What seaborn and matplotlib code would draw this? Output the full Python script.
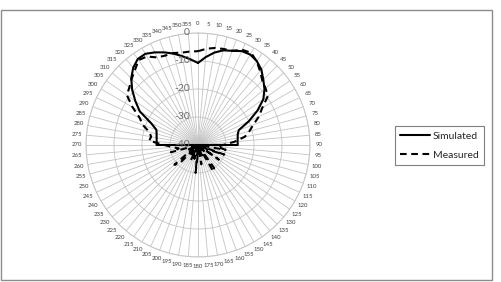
import numpy as np
import pandas as pd
import matplotlib
matplotlib.use("Agg")
import matplotlib.pyplot as plt
from matplotlib.lines import Line2D
from matplotlib.patches import Rectangle
from matplotlib.transforms import offset_copy
import seaborn as sns

# ---- data ----
angles = list(range(0, 360, 5))  # category labels (degrees)
simulated = [
    -10.7, -8.5, -6.5, -5.0, -4.2, -3.0, -2.7, -3.4, -4.8, -7.0,   # 0-45
    -9.0, -11.5, -15.5, -20.0, -24.5, -25.3, -25.6, -25.8, -25.8,  # 50-90
    -40, -40, -40, -40, -40, -40, -40, -40, -40, -40, -40, -40,    # 95-150
    -40, -40, -40, -40, -40, -40, -40, -40, -40, -40, -40, -40,    # 155-210
    -40, -40, -40, -40, -40, -40, -40, -40, -40, -40, -40,         # 215-265
    -25.2, -25.2, -25.0, -24.7, -24.2, -21.5, -16.0, -12.7, -9.3,  # 270-310
    -6.3, -4.0, -2.5, -2.4, -3.5, -4.8, -6.2, -7.8, -9.3,          # 315-355
]
measured = [
    -6.5, -5.5, -4.8, -4.5, -4.2, -2.5, -2.0, -3.5, -5.5, -7.5,    # 0-45
    -8.5, -9.5, -13.5, -16.0, -19.0, -21.0, -23.0, -27.0, -31.0,   # 50-90
    -33, -30, -40, -30, -36, -40, -31, -40, -37, -40, -30, -29,    # 95-150
    -40, -36, -40, -33, -40, -37, -30, -40, -35, -40, -34, -40,    # 155-210
    -36, -40, -31, -29, -38, -40, -36, -40, -30, -33, -31,         # 215-265
    -28.0, -22.5, -23.0, -22.0, -19.0, -17.0, -13.0, -9.0, -8.0,   # 270-310
    -6.5, -5.0, -3.0, -3.5, -5.5, -6.0, -6.0, -6.5, -6.5,          # 315-355
]
radial_ticks = [-40, -30, -20, -10, 0]
series_names = ["Simulated", "Measured"]

# ---- figure ----
sns.set_style("white")
plt.rcParams["font.family"] = ["Lato", "DejaVu Sans"]

fig = plt.figure(figsize=(5.02, 2.82), dpi=100)
ax = fig.add_axes([0.1713, 0.0887, 0.4462, 0.7943], projection="polar")
ax.set_theta_zero_location("N")
ax.set_theta_direction(-1)
ax.set_ylim(-40, 0)

theta = np.deg2rad(angles + [360])
df = pd.DataFrame({
    "theta": np.concatenate([theta, theta]),
    "value": simulated + simulated[:1] + measured + measured[:1],
    "series": [series_names[0]] * len(theta) + [series_names[1]] * len(theta),
})

dash = (0, (3.2, 2.2))
sns.lineplot(data=df[df.series == "Simulated"], x="theta", y="value", ax=ax,
             color="black", lw=1.5, sort=False, estimator=None, legend=False,
             zorder=4)
sns.lineplot(data=df[df.series == "Measured"], x="theta", y="value", ax=ax,
             color="black", lw=1.5, sort=False, estimator=None, legend=False,
             linestyle=dash, zorder=4)

grid_col = "#c4c4c4"
ax.set_xticks(np.deg2rad(angles))
ax.set_xticklabels([str(a) for a in angles], fontsize=4.3, color="#404040")
ax.tick_params(axis="x", pad=-4)
ax.set_yticks(radial_ticks)
ax.set_yticklabels([])
ax.grid(True, color=grid_col, lw=0.6)
ax.spines["polar"].set_color(grid_col)
ax.spines["polar"].set_linewidth(0.7)
ax.set_xlabel("")
ax.set_ylabel("")

# value axis labels along 0 deg spoke
for r in radial_ticks:
    tr = offset_copy(ax.transData, fig=fig, x=-8, y=0, units="dots")
    ax.text(0, r, str(r), transform=tr, ha="right", va="center",
            fontsize=7.5, color="#6a6a6a", zorder=6)

# legend
handles = [Line2D([], [], color="black", lw=1.5),
           Line2D([], [], color="black", lw=1.5, linestyle=dash)]
leg = fig.legend(handles, series_names, loc="center",
                 bbox_to_anchor=(0.787, 0.411, 0.177, 0.145),
                 fontsize=7.5, handlelength=2.8, handletextpad=0.3,
                 borderpad=0.55, labelspacing=0.9, fancybox=False,
                 framealpha=1, edgecolor="#808080")
leg.get_frame().set_linewidth(0.8)
for t in leg.get_texts():
    t.set_color("#262626")

# outer chart border
fig.patches.append(Rectangle((0.001, 0.007), 491 / 502, 0.957,
                             transform=fig.transFigure, fill=False,
                             edgecolor="#8c8c8c", lw=1.0))

fig.savefig("out.png", dpi=100)
